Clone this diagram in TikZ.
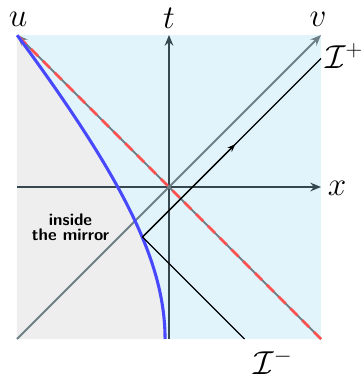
\documentclass[tikz,border=0pt]{standalone}
\usetikzlibrary{arrows.meta,calc}
\definecolor{skyfill}{HTML}{E1F4FC}
\definecolor{mirrorfill}{HTML}{EEEEEE}
\definecolor{axisdark}{HTML}{37474F}
\definecolor{diaggray}{HTML}{6E7F87}
\definecolor{mirrorblue}{HTML}{4848FF}
\definecolor{horizred}{HTML}{FF5050}
\begin{document}
\begin{tikzpicture}[x=0.75pt,y=0.75pt,
  axisline/.style={axisdark,line width=1.5pt,-{Stealth[length=8pt,width=6.5pt]}},
  diagline/.style={diaggray,line width=1.5pt,-{Stealth[length=8pt,width=6.5pt]}},
  horizon/.style={horizred,line width=2pt,dash pattern=on 7.5pt off 5pt},
  mirrorline/.style={mirrorblue,line width=2.3pt},
  ray/.style={black,line width=0.8pt},
  lbl/.style={inner sep=0pt,font=\fontsize{23}{26}\selectfont},
  regionlbl/.style={inner sep=0pt,align=center,font=\sffamily\bfseries\fontsize{12.6}{11.5}\selectfont}]
\useasboundingbox (-169,-187) rectangle (194,187);
% corners and axis ends
\coordinate (BL) at (-152,-152);
\coordinate (TR) at (152,152);
\coordinate (TL) at (-152,152);
\coordinate (BR) at (152,-152);
\coordinate (xL) at (-152,0);
\coordinate (xR) at (152,0);
\coordinate (tB) at (0,-152);
\coordinate (tT) at (0,152);
% ray points
\coordinate (P) at (-26.5,-50);
\coordinate (Rin) at (75.5,-152);
\coordinate (Rout) at (152,128.5);
% fills
\fill[skyfill] (BL) rectangle (TR);
\fill[mirrorfill] (BL) -- plot[domain=-1:1,samples=100,variable=\t]
  ({-152*(0.026+0.86*(sqrt(1.44+(\t+1)*(\t+1))-1.2))},{152*\t}) -- (TL) -- cycle;
% axes
\draw[axisline] (xL) -- (xR);
\draw[axisline] (tB) -- (tT);
\draw[diagline] (BL) -- (TR);
\draw[diagline] (BR) -- (TL);
\draw[horizon] (BR) -- (TL);
% mirror
\draw[mirrorline] plot[domain=-1:1,samples=100,variable=\t]
  ({-152*(0.026+0.86*(sqrt(1.44+(\t+1)*(\t+1))-1.2))},{152*\t});
% light ray
\draw[ray] (Rin) -- (P) -- (Rout);
\draw[ray,-{Stealth[length=6pt,width=4.5pt]}] (P) -- ($(P)!0.52!(Rout)$);
% labels
\node[lbl] (lu) at (-151,168) {$u$};
\node[lbl] (lt) at (0,169) {$t$};
\node[lbl] (lv) at (149,168) {$v$};
\node[lbl] (lx) at (168,-1) {$x$};
\node[lbl] (lIp) at (175,131) {$\mathcal{I}^+$};
\node[lbl] (lIm) at (104,-175) {$\mathcal{I}^-$};
\node[regionlbl] (lin) at (-98.5,-40) {inside\\the mirror};
\end{tikzpicture}
\end{document}
